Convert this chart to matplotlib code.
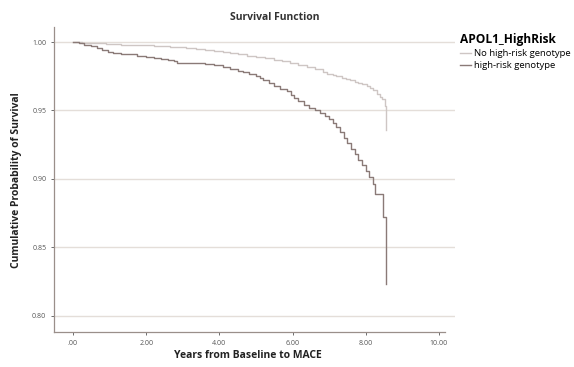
import numpy as np
from matplotlib import pyplot as plt

# Kaplan-Meier estimates
t_high = [0, 0.15, 0.3, 0.4, 0.5, 0.65, 0.8, 0.95, 1.1, 1.3, 1.5, 1.75, 2.0,
          2.2, 2.4, 2.6, 2.75, 2.85, 3.2, 3.6, 3.85, 4.1, 4.3, 4.5, 4.65, 4.8,
          5.0, 5.1, 5.2, 5.35, 5.5, 5.65, 5.85, 5.95, 6.05, 6.15, 6.3, 6.45, 6.6,
          6.75, 6.9, 7.0, 7.1, 7.2, 7.3, 7.4, 7.5, 7.6, 7.7, 7.8, 7.9, 8.0,
          8.1, 8.2, 8.25, 8.48, 8.56]
s_high = [1.0, 0.999, 0.998, 0.9975, 0.997, 0.9955, 0.994, 0.993, 0.992, 0.9915,
          0.991, 0.990, 0.989, 0.988, 0.9875, 0.987, 0.986, 0.985, 0.9848, 0.984,
          0.983, 0.982, 0.9805, 0.979, 0.978, 0.977, 0.975, 0.9735, 0.972, 0.970,
          0.968, 0.966, 0.964, 0.961, 0.959, 0.957, 0.954, 0.952, 0.950, 0.948,
          0.946, 0.944, 0.941, 0.938, 0.934, 0.930, 0.926, 0.922, 0.918, 0.914,
          0.910, 0.906, 0.901, 0.896, 0.889, 0.872, 0.823]

t_low = [0, 0.25, 0.5, 0.9, 1.3, 1.75, 2.2, 2.65, 3.1, 3.35, 3.6, 3.85, 4.1,
         4.3, 4.5, 4.75, 5.0, 5.25, 5.5, 5.7, 5.93, 6.15, 6.4, 6.6, 6.83, 6.95,
         7.1, 7.2, 7.35, 7.45, 7.57, 7.7, 7.8, 7.9, 8.03, 8.12, 8.2, 8.3, 8.38,
         8.44, 8.52, 8.56]
s_low = [1.0, 0.9995, 0.999, 0.9985, 0.998, 0.9975, 0.997, 0.9963, 0.9956,
         0.9948, 0.994, 0.9933, 0.9927, 0.9918, 0.991, 0.990, 0.989, 0.988,
         0.987, 0.986, 0.985, 0.9835, 0.982, 0.980, 0.978, 0.977, 0.976, 0.975,
         0.974, 0.973, 0.972, 0.971, 0.970, 0.969, 0.968, 0.9665, 0.965, 0.962,
         0.960, 0.958, 0.953, 0.936]

x_ticks = [0, 2, 4, 6, 8, 10]
x_labels = ['.00', '2.00', '4.00', '6.00', '8.00', '10.00']
y_ticks = [0.80, 0.85, 0.90, 0.95, 1.00]
y_labels = ['0.80', '0.85', '0.90', '0.95', '1.00']

plt.rcParams['font.family'] = ['Open Sans', 'DejaVu Sans']

fig = plt.figure(figsize=(5.74, 3.67), dpi=100)
ax = fig.add_axes([54/574, 1 - 332/367, (455 - 54)/574, (332 - 27)/367])

grid_col = '#e4ded9'
for yv in y_ticks:
    ax.axhline(yv, color=grid_col, lw=1.0, zorder=0)

ax.step(t_low, s_low, where='post', color='#cec6c4', lw=1.0, label='No high-risk genotype')
ax.step(t_high, s_high, where='post', color='#8a7a77', lw=1.0, label='high-risk genotype')

ax.set_xlim(-0.52, 10.44)
ax.set_ylim(0.788, 1.011)
ax.set_xticks(x_ticks)
ax.set_xticklabels(x_labels)
ax.set_yticks(y_ticks)
ax.set_yticklabels(y_labels)
ax.tick_params(labelsize=5, colors='#555555', length=2, width=0.6)
for s in ['top', 'right']:
    ax.spines[s].set_visible(False)
for s in ['left', 'bottom']:
    ax.spines[s].set_color('#9a8f8a')
    ax.spines[s].set_linewidth(0.9)
ax.spines['bottom'].set_bounds(-0.52, 10.17)

fig.text(275/574, 1 - 17/367, 'Survival Function', ha='center', va='center',
         fontsize=7.5, fontweight='bold', color='#333333')
fig.text(248/574, 1 - 355/367, 'Years from Baseline to MACE', ha='center', va='center',
         fontsize=7.5, fontweight='bold', color='#222222')
fig.text(17/574, 1 - 180/367, 'Cumulative Probability of Survival', ha='center', va='center',
         rotation=90, fontsize=7.5, fontweight='bold', color='#222222')

leg = fig.legend(loc='upper left', bbox_to_anchor=(456/574, 1 - 29/367),
                 title='APOL1_HighRisk', frameon=False, fontsize=6.8,
                 title_fontproperties={'weight': 'bold', 'size': 8.6},
                 handlelength=1.2, handletextpad=0.3, labelspacing=0.35,
                 borderaxespad=0, alignment='left')
leg._legend_box.align = 'left'

fig.savefig('out.png', dpi=100)
